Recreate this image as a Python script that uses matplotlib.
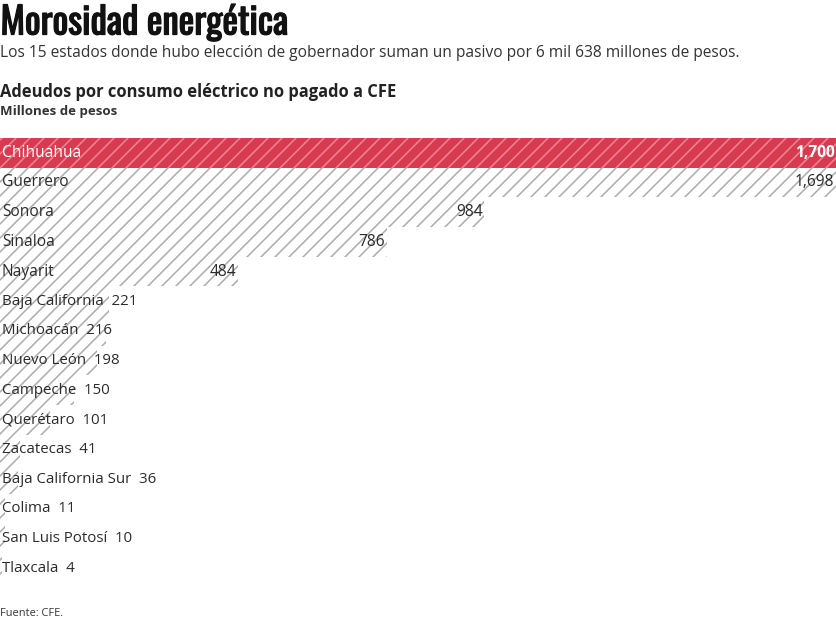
import numpy as np
import matplotlib.pyplot as plt
import matplotlib.patheffects as pe

# datos (millones de pesos)
estados = ["Chihuahua", "Guerrero", "Sonora", "Sinaloa", "Nayarit", "Baja California",
           "Michoacán", "Nuevo León", "Campeche", "Querétaro", "Zacatecas",
           "Baja California Sur", "Colima", "San Luis Potosí", "Tlaxcala"]
adeudos = [1700, 1698, 984, 786, 484, 221, 216, 198, 150, 101, 41, 36, 11, 10, 4]
etiquetas = ["1,700", "1,698", "984", "786", "484", "221", "216", "198", "150",
             "101", "41", "36", "11", "10", "4"]

DPI = 84
W, H = 837, 620


def pt(px):
    return px * 72.0 / DPI


titulo_font = ["Oswald", "Barlow Condensed", "DejaVu Sans"]
body = ["Open Sans", "DejaVu Sans"]

plt.rcParams["hatch.linewidth"] = 1.3

fig = plt.figure(figsize=(W / DPI, H / DPI), dpi=DPI)
fig.patch.set_facecolor("white")

ax = fig.add_axes([0, 1 - 583 / H, 1, (583 - 138) / H])
rojo = "#d83a50"
for i, (nombre, v, lab) in enumerate(zip(estados, adeudos, etiquetas)):
    if i == 0:
        ax.barh(i, v, height=1.0, color=rojo, edgecolor="#ec8796", hatch="//", linewidth=0)
        col = "white"
    else:
        ax.barh(i, v, height=1.0, color="white", edgecolor="#ababab", hatch="//", linewidth=0)
        col = "#2b2b2b"
    if v > 400:
        ax.text(4, i, nombre, ha="left", va="center", fontsize=pt(15.5), color=col,
                family=body)
        ax.text(v - 4, i, lab, ha="right", va="center", fontsize=pt(15.5), color=col,
                family=body, fontweight="bold" if i == 0 else "normal")
    else:
        ax.text(4, i, nombre + "  " + lab, ha="left", va="center", fontsize=pt(15),
                color=col, family=body)

ax.set_xlim(0, 1700)
ax.set_ylim(len(estados) - 0.5, -0.5)
ax.axis("off")

fig.text(0.5 / W, 1 - 23 / H, "Morosidad energética", ha="left", va="center",
         fontsize=pt(37), family=titulo_font, color="#111111",
         path_effects=[pe.withStroke(linewidth=1.1, foreground="#111111")])
fig.text(0, 1 - 53 / H,
         "Los 15 estados donde hubo elección de gobernador suman un pasivo por 6 mil 638 millones de pesos.",
         ha="left", va="center", fontsize=pt(15.5), family=body, color="#333333")
fig.text(0, 1 - 92 / H, "Adeudos por consumo eléctrico no pagado a CFE", ha="left",
         va="center", fontsize=pt(16.5), family=body, fontweight="bold", color="#222222")
fig.text(0, 1 - 112 / H, "Millones de pesos", ha="left", va="center",
         fontsize=pt(13.2), family=body, fontweight="bold", color="#333333")
fig.text(0, 1 - 613 / H, "Fuente: CFE.", ha="left", va="center",
         fontsize=pt(11), family=body, color="#333333")

fig.savefig("out.png", dpi=DPI)
